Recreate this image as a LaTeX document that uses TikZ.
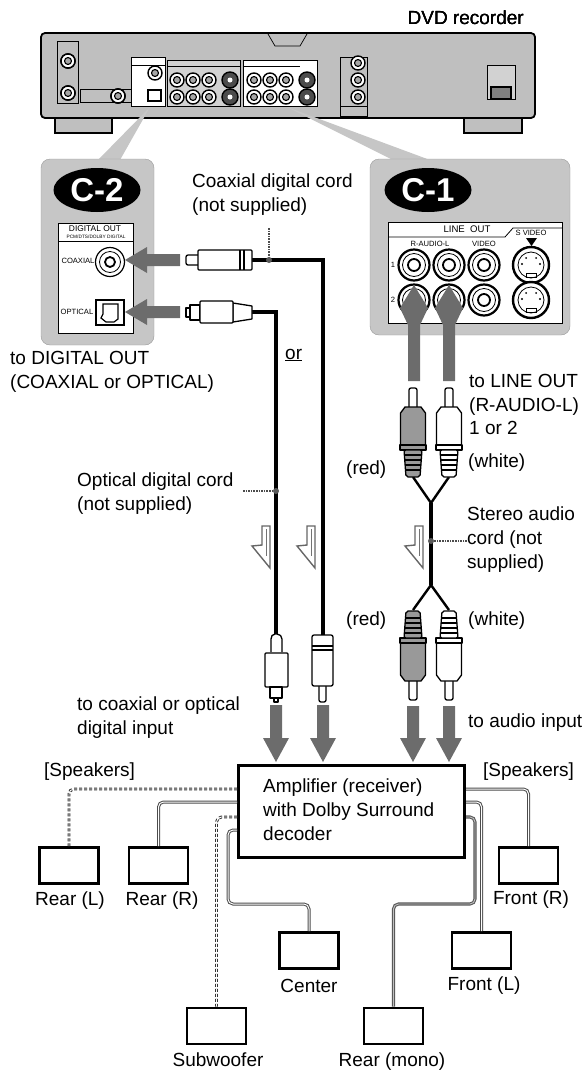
\documentclass[tikz,border=0pt]{standalone}
\usepackage{fontspec}
\setmainfont{Liberation Sans}
\usetikzlibrary{shapes.geometric}

\newcommand{\szfont}[1]{\fontsize{#1}{#1}\selectfont}

% small jack on the recorder back
\newcommand{\recjack}[2]{
  \draw[line width=1.4pt,fill=white] (#1,#2) circle (7);
  \draw[line width=1.1pt,fill=gray!70] (#1,#2) circle (3.5);
}
% dark S video jack on the recorder back
\newcommand{\recsvideo}[2]{
  \draw[line width=1.4pt,fill=black!70] (#1,#2) circle (8);
  \fill[white] (#1,#2) circle (2.5);
}
% large jack on the C-1 panel
\newcommand{\bigjack}[2]{
  \draw[line width=2.2pt,fill=white] (#1,#2) circle (15.5);
  \draw[line width=.8pt] (#1,#2) circle (11.5);
  \draw[line width=1.8pt] (#1,#2) circle (6);
}
% S video jack
\newcommand{\svjack}[2]{
  \draw[line width=2.4pt,fill=white] (#1,#2) circle (18);
  \draw[line width=.8pt] (#1,#2) circle (13);
  \draw[line width=.8pt] (#1-5,#2+8) rectangle (#1+5,#2+12);
  \fill (#1-9,#2-1) circle (1.2) (#1+9,#2-1) circle (1.2) (#1-5,#2-7) circle (1) (#1+5,#2-7) circle (1);
}
% RCA plug, tip at (x,y), arg 3 = 1 tip up / -1 tip down, arg 4 = fill
\newcommand{\rcaplug}[4]{
  \begin{scope}[shift={(#1,#2)},yscale=#3,plugline]
    \draw[fill=white,rounded corners=2pt] (-4,20) -- (-4,0) -- (4,0) -- (4,20);
    \draw[fill=#4] (-8,19) -- (8,19) -- (12.5,25) -- (12.5,57) -- (-12.5,57) -- (-12.5,25) -- cycle;
    \draw[fill=#4] (-13,57) rectangle (13,62);
    \draw[fill=#4,rounded corners=2pt] (-9,62) -- (9,62) -- (7,89) -- (-7,89) -- cycle;
    \foreach \ringy in {67,72,77,82} \draw (-8,\ringy) -- (8,\ringy);
  \end{scope}
}
% gray block arrows
\newcommand{\arrowdown}[2]{
  \fill[arrowgray] (#1-6,#2) -- (#1+6,#2) -- (#1+6,738) -- (#1+13,738) -- (#1,762) -- (#1-13,738) -- (#1-6,738) -- cycle;
}
\newcommand{\arrowleft}[1]{
  \fill[arrowgray] (180,#1-6) -- (180,#1+6) -- (147,#1+6) -- (147,#1+13) -- (125,#1) -- (147,#1-13) -- (147,#1-6) -- cycle;
}
\newcommand{\arrowup}[1]{
  \fill[arrowgray] (#1-6,381) -- (#1+6,381) -- (#1+6,325) -- (#1+14,308) -- (#1,285) -- (#1-14,308) -- (#1-6,325) -- cycle;
}
% hollow arrow beside a cord
\newcommand{\hollowarrow}[1]{
  \draw[hollowline,shift={(#1,0)}] (-8,526) -- (0,526) -- (0,568) -- (-18,546) -- (-8,545) -- cycle;
  \draw[draw=gray!90!black,line width=.6pt,shift={(#1,0)}] (-4,529) -- (-4,556);
}

\tikzset{
  lbl/.style={inner sep=0pt,font=\szfont{19},align=left,anchor=west},
  lblc/.style={inner sep=0pt,font=\szfont{19},anchor=center},
  speaker/.style={draw,line width=2.9pt,fill=white,minimum width=59pt,minimum height=36pt,inner sep=0pt},
  badge/.style={ellipse,fill=black,text=white,inner sep=0pt,minimum width=87pt,minimum height=44pt,font=\bfseries\szfont{33}},
  tiny/.style={inner sep=0pt,font=\szfont{7.6}},
  plugline/.style={line width=1.3pt,line join=round},
  arrowgray/.style={fill=gray!85!black},
  hollowline/.style={draw=gray!80!black,line width=1.4pt,fill=white},
  cord/.style={line width=3.6pt},
  lead/.style={draw=gray!60!black,line width=1.6pt,densely dotted},
  wirea/.style={draw=black!80,line width=1pt,double=white,double distance=.9pt,densely dashed,rounded corners=5pt},
  wireb/.style={draw=gray!60!black,line width=1pt,double=white,double distance=1pt,rounded corners=5pt},
  wirec/.style={draw=black!65,line width=1.1pt,double=gray!50,double distance=.9pt,rounded corners=5pt},
}

\begin{document}
\begin{tikzpicture}[x=1pt,y=-1pt]
  \useasboundingbox (0,0) rectangle (588,1074);

  % Recorder
  \draw[line width=1.8pt,fill=gray!50] (55,118) rectangle (112,133);
  \draw[line width=1.8pt,fill=gray!50] (464,118) rectangle (522,133);
  \draw[line width=1.8pt,fill=gray!50,rounded corners=4pt] (41,33) rectangle (535,118);
  \draw[line width=.7pt] (268,34) -- (275,46) -- (300,46) -- (307,34);
  \draw[line width=.8pt] (57,41) rectangle (78,103);
  \draw[line width=.8pt] (80,89) rectangle (131,102);
  \draw[line width=.8pt] (340,57) rectangle (367,116);
  \draw[line width=.8pt] (340,106) -- (367,106);
  \draw[line width=.8pt,fill=gray!35] (487,65) rectangle (515,99);
  \draw[line width=1.4pt,fill=gray] (491,87) rectangle (511,99);
  \draw[line width=.8pt,fill=white] (131,57) rectangle (165,106);
  \draw[line width=.8pt,fill=gray!35] (167,60) rectangle (240,106);
  \draw[line width=.8pt,fill=white] (243,60) rectangle (317,106);
  \draw[line width=.7pt] (131,65) -- (165,65) (167,66) -- (240,66) (243,66) -- (300,66);
  \draw[line width=1.2pt,fill=white] (148,90) rectangle (161,101);
  \recjack{155}{73}
  \foreach \jx in {177,193,209,254,270,286} {
    \recjack{\jx}{80}
    \recjack{\jx}{97}
  }
  \foreach \jx in {230,307} {
    \recsvideo{\jx}{80}
    \recsvideo{\jx}{97}
  }
  \foreach \jy in {63,80,97} \recjack{358}{\jy}
  \recjack{68}{61}
  \recjack{68}{93}
  \recjack{118}{96}
  \node[lbl,anchor=east] (recorderlabel) at (524,18) {DVD recorder};

  % Pointers from recorder to the panels
  \fill[gray!45] (98,160) -- (150,107) -- (120,160) -- cycle;
  \fill[gray!45] (393,160) -- (287,107) -- (430,160) -- cycle;

  % Panel C-2
  \draw[draw=gray!80,fill=gray!45,rounded corners=9pt] (41,159) rectangle (154,345);
  \draw[line width=.8pt,fill=white] (58,223) rectangle (133,333);
  \draw[line width=.8pt] (58,241) -- (133,241);
  \node[badge] (badgetwo) at (97,190) {C-2};
  \node[inner sep=0pt,font=\szfont{8.4}] (digitalout) at (95,229) {DIGITAL OUT};
  \node[inner sep=0pt,font=\szfont{4.8}] (digitalsub) at (96,237) {PCM/DTS/DOLBY DIGITAL};
  \node[tiny] (coaxialtext) at (78,261) {COAXIAL};
  \node[tiny] (opticaltext) at (77,312) {OPTICAL};
  \draw[line width=1.2pt,fill=white] (110,262) circle (14.5);
  \draw[line width=.8pt] (110,262) circle (10.5);
  \draw[line width=1.8pt] (110,262) circle (5);
  \draw[line width=1.8pt,fill=white] (96,300) rectangle (124,325);
  \draw[line width=1.2pt] (103,304) -- (118,304) -- (118,319) -- (114,322) -- (106,322) -- (101,318) -- (103,314) -- cycle;

  % Panel C-1
  \draw[draw=gray!80,fill=gray!45,rounded corners=9pt] (370,159) rectangle (570,335);
  \draw[line width=.8pt,fill=white] (388,222) rectangle (562,323);
  \draw[line width=.8pt] (388,237) -- (505,237) -- (513,228) -- (562,228);
  \node[badge] (badgeone) at (428,190) {C-1};
  \node[inner sep=0pt,font=\szfont{9.6}] (lineout) at (467,229) {LINE\ \ OUT};
  \node[tiny] (raudiol) at (430,244) {R-AUDIO-L};
  \node[tiny] (videotext) at (484,244) {VIDEO};
  \node[tiny] (svideotext) at (531,233) {S VIDEO};
  \node[tiny] (rowone) at (393,265) {1};
  \node[tiny] (rowtwo) at (393,300) {2};
  \fill (526,238) -- (537,238) -- (531.5,246) -- cycle;
  \foreach \jx in {414,449,484} {
    \bigjack{\jx}{265}
    \bigjack{\jx}{300}
  }
  \svjack{531}{265}
  \svjack{531}{300}

  % Gray arrows
  \arrowleft{260}
  \arrowleft{312}
  \arrowup{414}
  \arrowup{449}
  \arrowdown{276}{705}
  \arrowdown{323}{705}
  \arrowdown{413}{706}
  \arrowdown{449}{706}

  % Coordinates for the cords
  \path
  (252,260) coordinate(coaxtop)
  (323,635) coordinate(coaxbot)
  (252,312) coordinate(opttop)
  (276,634) coordinate(optbot)
  (413,477) coordinate(redtop)
  (449,477) coordinate(whitetop)
  (431,503) coordinate(forktop)
  (431,585) coordinate(forkbot)
  (413,610) coordinate(redbot)
  (449,610) coordinate(whitebot)
  (269,228) coordinate(coaxleadtop)
  (269,260) coordinate(coaxleadend)
  (243,491) coordinate(optleadleft)
  (276,491) coordinate(optleadend)
  (467,541) coordinate(audioleadright)
  (431,541) coordinate(audioleadend);

  % Cords
  \draw[cord] (coaxtop) -| (coaxbot);
  \draw[cord] (opttop) -| (optbot);
  \draw[cord] (forktop) -- (forkbot);
  \draw[line width=2.4pt] (redtop) -- (forktop) -- (whitetop);
  \draw[line width=2.4pt] (redbot) -- (forkbot) -- (whitebot);

  % Leads from the labels
  \draw[lead] (coaxleadtop) -- (coaxleadend);
  \draw[lead] (optleadleft) -- (optleadend);
  \draw[lead] (audioleadright) -- (audioleadend);
  \fill[gray!70!black] (coaxleadend) circle (3);
  \fill[gray!70!black] (optleadend) circle (3);
  \fill[gray!70!black] (audioleadend) circle (3);

  % Plugs towards the recorder
  \begin{scope}[plugline]
    \draw[fill=white,rounded corners=2pt] (198,255) -- (186,255) -- (186,265) -- (198,265);
    \draw[fill=white,rounded corners=1pt] (198,250) rectangle (252,270);
    \draw (240,250) -- (240,270) (244,250) -- (244,270);
    \draw[fill=white] (190,308) rectangle (186,317);
    \draw[fill=white] (190,305) rectangle (200,320);
    \draw[fill=white] (233,303) -- (252,306) -- (252,319) -- (233,322) -- cycle;
    \draw[fill=white,rounded corners=1pt] (200,301) rectangle (233,323);
    % Plugs towards the amplifier
    \draw[fill=white,rounded corners=2pt] (271,652) -- (271,637) -- (273,634) -- (279,634) -- (282,637) -- (282,652);
    \draw[fill=white,rounded corners=1pt] (265,653) rectangle (288,687);
    \draw[fill=white] (270,687) rectangle (282,698);
    \draw[fill=white] (274,698) rectangle (278,702);
    \draw[fill=white,rounded corners=2pt] (319,686) -- (319,702) -- (326,702) -- (326,686);
    \draw[fill=white,rounded corners=2pt] (312,635) rectangle (333,686);
    \draw (312,646) -- (333,646) (312,650) -- (333,650);
  \end{scope}
  \rcaplug{413}{388}{1}{gray!80}
  \rcaplug{449}{388}{1}{white}
  \rcaplug{413}{700}{-1}{gray!80}
  \rcaplug{449}{700}{-1}{white}

  % Hollow arrows
  \hollowarrow{270}
  \hollowarrow{315}
  \hollowarrow{423}

  % Amplifier and speakers
  \node[speaker,minimum width=226pt,minimum height=92pt] (amp) at (351.5,811.5) {};
  \node[speaker] (rearleft) at (69,865.5) {};
  \node[speaker] (rearright) at (158.5,865.5) {};
  \node[speaker] (subwoofer) at (216.5,1026) {};
  \node[speaker] (center) at (309,950.5) {};
  \node[speaker] (frontleft) at (481.5,950.5) {};
  \node[speaker] (frontright) at (528.5,865.5) {};
  \node[speaker] (rearmono) at (393.5,1026) {};

  \path
  (237,789) coordinate(ampwa)
  (237,802) coordinate(ampwb)
  (237,817) coordinate(ampwc)
  (237,830) coordinate(ampwd)
  (466,789) coordinate(ampea)
  (466,802) coordinate(ampeb)
  (466,817) coordinate(ampec);

  \draw[wirea] (ampwa) -| (rearleft.north);
  \draw[wireb] (ampwb) -| (rearright.north);
  \draw[wirea] (ampwc) -| (subwoofer.north);
  \draw[wireb] (ampwd) -- (228,830) -- (228,904) -- (309,904) -- (center.north);
  \draw[wireb] (ampea) -| (frontright.north);
  \draw[wireb] (ampeb) -| (frontleft.north);
  \draw[wirec] (ampec) -- (475,817) -- (475,904) -- (393.5,904) -- (rearmono.north);

  % Labels
  \node[lbl] (amptext) at (263,810) {Amplifier (receiver)\\[5pt]with Dolby Surround\\[5pt]decoder};
  \node[lbl] (coaxlabel) at (192,195) {Coaxial digital cord\\[5pt](not supplied)};
  \node[lbl] (digoutlabel) at (10,372) {to DIGITAL OUT\\[5pt](COAXIAL or OPTICAL)};
  \node[lbl] (orlabel) at (285,355) {\underline{or}};
  \node[lbl] (lineoutlabel) at (469,404) {to LINE OUT\\[5pt](R-AUDIO-L)\\[4pt]1 or 2};
  \node[lbl] (whitea) at (468,463) {(white)};
  \node[lbl] (reda) at (346,470) {(red)};
  \node[lbl] (stereolabel) at (467,540) {Stereo audio\\[5pt]cord (not\\[5pt]supplied)};
  \node[lbl] (redb) at (346,621) {(red)};
  \node[lbl] (whiteb) at (468,621) {(white)};
  \node[lbl] (audioinput) at (468,723) {to audio input};
  \node[lbl] (optlabel) at (77,494) {Optical digital cord\\[5pt](not supplied)};
  \node[lbl] (inputlabel) at (77,718) {to coaxial or optical\\[5pt]digital input};
  \node[lbl] (speakersl) at (44,772) {[Speakers]};
  \node[lbl] (speakersr) at (483,772) {[Speakers]};
  \node[lblc] (rearleftlabel) at (70,901) {Rear (L)};
  \node[lblc] (rearrightlabel) at (162,901) {Rear (R)};
  \node[lblc] (subwooferlabel) at (218,1060) {Subwoofer};
  \node[lblc] (centerlabel) at (309,986) {Center};
  \node[lblc] (frontleftlabel) at (484,986) {Front (L)};
  \node[lblc] (frontrightlabel) at (531,900) {Front (R)};
  \node[lblc] (rearmonolabel) at (392,1062) {Rear (mono)};
\end{tikzpicture}
\end{document}
